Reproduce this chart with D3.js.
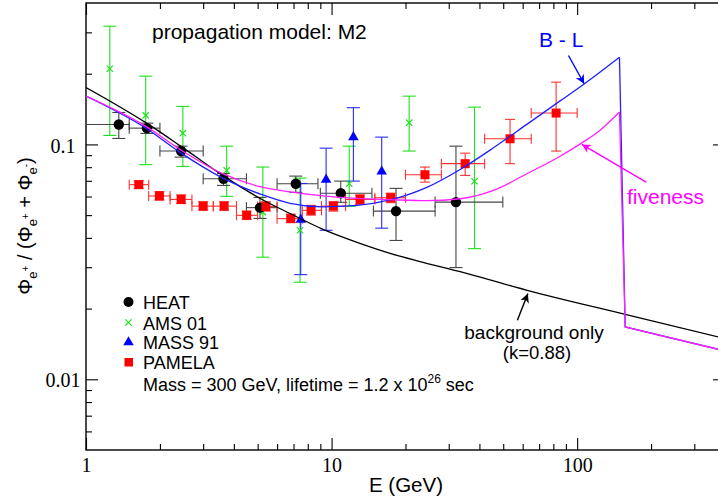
<!DOCTYPE html>
<html>
<head>
<meta charset="utf-8">
<script src="https://cdn.jsdelivr.net/npm/d3@7"></script>
<style>
  body { margin: 0; background: #fff; }
  svg { display: block; }
</style>
</head>
<body>
<svg width="718" height="502"></svg>
<script>
const svg = d3.select('svg');

// HEAT (black circles): energy, ratio, energy bin, ratio error
const heatE   = [1.36, 1.77, 2.44, 3.63, 5.11, 7.15, 10.9, 18.3, 32.1];
const heatV   = [0.1216, 0.1173, 0.0937, 0.0714, 0.0538, 0.068, 0.062, 0.052, 0.0568];
const heatElo = [1.0, 1.5, 2.0, 3.0, 4.5, 6.0, 9.0, 14.8, 26.4];
const heatEhi = [1.5, 2.0, 3.0, 4.5, 6.0, 8.8, 14.6, 26.4, 49.8];
const heatVlo = [0.106, 0.1114, 0.0883, 0.0669, 0.0484, 0.0625, 0.0567, 0.039, 0.0299];
const heatVhi = [0.1368, 0.1232, 0.0983, 0.0752, 0.0595, 0.0733, 0.0698, 0.065, 0.0983];

// AMS 01 (green crosses)
const amsE   = [1.25, 1.75, 2.48, 3.74, 5.25, 7.44, 11.8, 20.7, 38.2];
const amsV   = [0.21, 0.1329, 0.1117, 0.0775, 0.0515, 0.0431, 0.068, 0.1237, 0.0697];
const amsVlo = [0.1092, 0.082, 0.0806, 0.0601, 0.0331, 0.0259, 0.0545, 0.0937, 0.036];
const amsVhi = [0.3187, 0.1953, 0.1451, 0.0983, 0.0801, 0.0719, 0.0983, 0.1605, 0.1441];

// MASS 91 (blue triangles)
const massE   = [7.49, 9.5, 12.27, 16.0];
const massV   = [0.0478, 0.0708, 0.1074, 0.0767];
const massVlo = [0.0279, 0.0431, 0.0698, 0.044];
const massVhi = [0.0682, 0.0964, 0.1433, 0.1074];

// PAMELA (red squares)
const pamE   = [1.64, 1.99, 2.44, 3.0, 3.65, 4.51, 5.4, 6.82, 8.25, 10.17, 13.06, 17.4, 24.0, 35.0, 53.3, 82.1];
const pamV   = [0.0674, 0.0603, 0.0583, 0.0546, 0.0546, 0.0499, 0.0544, 0.0483, 0.0524, 0.0546, 0.0583, 0.0593, 0.0743, 0.0828, 0.1057, 0.136];
const pamElo = [1.5, 1.8, 2.2, 2.7, 3.3, 4.1, 5.0, 6.0, 7.6, 9.1, 11.4, 15.0, 20.0, 28.0, 42.0, 65.0];
const pamEhi = [1.8, 2.2, 2.7, 3.3, 4.1, 5.0, 6.0, 7.6, 9.1, 11.4, 15.0, 20.0, 28.0, 42.0, 65.0, 100.0];
const pamVlo = [0.065, 0.058, 0.056, 0.0525, 0.0525, 0.048, 0.052, 0.0465, 0.05, 0.052, 0.0555, 0.0565, 0.0691, 0.0738, 0.0828, 0.0937];
const pamVhi = [0.070, 0.063, 0.061, 0.057, 0.057, 0.052, 0.057, 0.0505, 0.055, 0.057, 0.061, 0.062, 0.0801, 0.0918, 0.1278, 0.1841];

// model curves
const bgE = [1, 1.772, 2.438, 3.649, 5.212, 6.776, 9.235, 12.70, 17.31, 23.59, 36.66, 62.56, 156.9, 400];
const bgV = [0.1748, 0.1229, 0.0981, 0.0731, 0.0583, 0.0508, 0.04348, 0.03828, 0.03437, 0.03147, 0.02798, 0.02392, 0.01891, 0.0149];
const blE = [1, 1.767, 2.415, 3.625, 5.163, 6.776, 9.235, 12.70, 17.31, 24.42, 33.38, 45.6, 62.39, 85.27, 106.8, 148.7, 156.9, 400];
const blV = [0.1605, 0.1166, 0.0925, 0.0717, 0.0613, 0.0561, 0.0542, 0.0550, 0.0580, 0.0656, 0.0782, 0.0967, 0.1217, 0.1532, 0.1809, 0.2352, 0.0167, 0.0132];
const fvE = [1, 1.767, 2.415, 3.625, 5.163, 6.776, 9.235, 12.70, 17.31, 24.42, 33.38, 45.6, 62.39, 85.27, 104.5, 124.1, 148.7, 156.9, 400];
const fvV = [0.1605, 0.1187, 0.0952, 0.0749, 0.0659, 0.0628, 0.0604, 0.0589, 0.0582, 0.0576, 0.0587, 0.0637, 0.0750, 0.0890, 0.1015, 0.1150, 0.1373, 0.0167, 0.0132];
const cutE = 148.7;

// annotation arrows [E0, v0, E1, v1]
const arrowBL = [92.2, 0.2391, 106.8, 0.1812];
const arrowFive = [191, 0.0691, 104.5, 0.1];
const arrowBg = [57.1, 0.01782, 63.0, 0.02316];

// axis ticks
const xMajor = [1, 10, 100];
const xMinor = [2, 3, 4, 5, 6, 7, 8, 9, 20, 30, 40, 50, 60, 70, 80, 90, 200, 300];
const yMajor = [0.01, 0.1];
const yMinor = [0.006, 0.007, 0.008, 0.009, 0.02, 0.03, 0.04, 0.05, 0.06, 0.07, 0.08, 0.09, 0.2, 0.3];

const sans = 'Liberation Sans, Arial, Helvetica, sans-serif';
const serif = 'Liberation Serif, Times New Roman, serif';

const x = d3.scaleLog().domain([1, 400]).range([86, 725]);
const y = d3.scaleLog().domain([0.005, 0.4]).range([450, 3]);

// clip
const defs = svg.append('defs');
defs.append('clipPath').attr('id', 'plot')
  .append('rect').attr('x', 86).attr('y', 3).attr('width', 639).attr('height', 447);

['#000', '#0000ff', '#ff00ff'].forEach((c, i) => {
  defs.append('marker')
    .attr('id', 'arr' + i)
    .attr('viewBox', '0 0 10 10')
    .attr('refX', 10).attr('refY', 5)
    .attr('markerWidth', 9).attr('markerHeight', 9)
    .attr('markerUnits', 'userSpaceOnUse')
    .attr('orient', 'auto')
    .append('path')
    .attr('d', 'M0,0 L10,5 L0,10 L3,5 Z')
    .attr('fill', c);
});

// axes
function styleAxis(g) {
  g.select('.domain').remove();
  g.selectAll('.tick line').attr('stroke', '#000').attr('stroke-width', 1.1);
  g.attr('font-family', serif).attr('font-size', 20);
  g.selectAll('text').attr('fill', '#000');
}

svg.append('g').attr('transform', 'translate(0,450)')
  .call(d3.axisBottom(x).tickValues(xMajor).tickSize(-12).tickPadding(8).tickFormat(d => d))
  .call(styleAxis);
svg.append('g').attr('transform', 'translate(0,450)')
  .call(d3.axisBottom(x).tickValues(xMinor).tickSize(-6).tickFormat(''))
  .call(styleAxis);
svg.append('g').attr('transform', 'translate(0,3)')
  .call(d3.axisTop(x).tickValues(xMajor).tickSize(-12).tickFormat(''))
  .call(styleAxis);
svg.append('g').attr('transform', 'translate(0,3)')
  .call(d3.axisTop(x).tickValues(xMinor).tickSize(-6).tickFormat(''))
  .call(styleAxis);

svg.append('g').attr('transform', 'translate(86,0)')
  .call(d3.axisLeft(y).tickValues(yMajor).tickSize(-12).tickFormat(d => String(d)))
  .call(styleAxis)
  .call(g => g.selectAll('text').attr('text-anchor', 'middle').attr('x', -23).attr('dy', '0.38em'));
svg.append('g').attr('transform', 'translate(86,0)')
  .call(d3.axisLeft(y).tickValues(yMinor).tickSize(-6).tickFormat(''))
  .call(styleAxis);
svg.append('g').attr('transform', 'translate(725,0)')
  .call(d3.axisRight(y).tickValues(yMajor).tickSize(-12).tickFormat(''))
  .call(styleAxis);
svg.append('g').attr('transform', 'translate(725,0)')
  .call(d3.axisRight(y).tickValues(yMinor).tickSize(-6).tickFormat(''))
  .call(styleAxis);

// frame
svg.append('rect')
  .attr('x', 86).attr('y', 3).attr('width', 639).attr('height', 447)
  .attr('fill', 'none').attr('stroke', '#000').attr('stroke-width', 1.4);

const plot = svg.append('g').attr('clip-path', 'url(#plot)');

// error bars
function errorBars(rows, color, capY, capX) {
  const g = plot.append('g').attr('stroke', color).attr('stroke-width', 1.1).attr('fill', 'none');
  rows.forEach(r => {
    g.append('line').attr('x1', x(r.e)).attr('x2', x(r.e)).attr('y1', y(r.vlo)).attr('y2', y(r.vhi));
    [r.vlo, r.vhi].forEach(v => g.append('line')
      .attr('x1', x(r.e) - capY).attr('x2', x(r.e) + capY).attr('y1', y(v)).attr('y2', y(v)));
    if (r.elo !== undefined) {
      g.append('line').attr('x1', x(r.elo)).attr('x2', x(r.ehi)).attr('y1', y(r.v)).attr('y2', y(r.v));
      [r.elo, r.ehi].forEach(e => g.append('line')
        .attr('x1', x(e)).attr('x2', x(e)).attr('y1', y(r.v) - capX).attr('y2', y(r.v) + capX));
    }
  });
}

const heat = heatE.map((e, i) => ({ e, v: heatV[i], elo: heatElo[i], ehi: heatEhi[i], vlo: heatVlo[i], vhi: heatVhi[i] }));
const ams = amsE.map((e, i) => ({ e, v: amsV[i], vlo: amsVlo[i], vhi: amsVhi[i] }));
const mass = massE.map((e, i) => ({ e, v: massV[i], vlo: massVlo[i], vhi: massVhi[i] }));
const pam = pamE.map((e, i) => ({ e, v: pamV[i], elo: pamElo[i], ehi: pamEhi[i], vlo: pamVlo[i], vhi: pamVhi[i] }));

errorBars(ams, '#1ee01e', 6.5, 0);
errorBars(heat, '#444', 6.5, 5.5);
errorBars(mass, '#2a2aff', 6.5, 0);
errorBars(pam, '#ff3030', 5, 5);

// markers
plot.append('g').selectAll('path').data(ams).join('path')
  .attr('transform', d => `translate(${x(d.e)},${y(d.v)})`)
  .attr('d', d3.symbol(d3.symbolTimes, 28))
  .attr('stroke', '#1ee01e').attr('stroke-width', 1.2).attr('fill', 'none');
plot.append('g').selectAll('circle').data(heat).join('circle')
  .attr('cx', d => x(d.e)).attr('cy', d => y(d.v)).attr('r', 5.2).attr('fill', '#000');
plot.append('g').selectAll('path').data(mass).join('path')
  .attr('transform', d => `translate(${x(d.e)},${y(d.v)})`)
  .attr('d', d3.symbol(d3.symbolTriangle, 48))
  .attr('fill', '#0000ff');
plot.append('g').selectAll('rect').data(pam).join('rect')
  .attr('x', d => x(d.e) - 4.5).attr('y', d => y(d.v) - 4.5)
  .attr('width', 9).attr('height', 9).attr('fill', '#ff0000');

// curves
const smooth = d3.line().x(d => x(d[0])).y(d => y(d[1])).curve(d3.curveMonotoneX);
const straight = d3.line().x(d => x(d[0])).y(d => y(d[1]));

function curve(es, vs, color) {
  const pts = es.map((e, i) => [e, vs[i]]);
  const head = pts.filter(p => p[0] <= cutE);
  const tail = pts.filter(p => p[0] >= cutE);
  plot.append('path').attr('d', smooth(head)).attr('fill', 'none')
    .attr('stroke', color).attr('stroke-width', 1.3);
  if (tail.length > 1) {
    plot.append('path').attr('d', straight(tail)).attr('fill', 'none')
      .attr('stroke', color).attr('stroke-width', 1.3);
  }
}
plot.append('path')
  .attr('d', smooth(bgE.map((e, i) => [e, bgV[i]])))
  .attr('fill', 'none').attr('stroke', '#000').attr('stroke-width', 1.3);
curve(blE, blV, '#2020ff');
curve(fvE, fvV, '#ff20ff');

// arrows
[[arrowBg, '#000', 0], [arrowBL, '#0000ff', 1], [arrowFive, '#ff00ff', 2]].forEach(([a, c, i]) => {
  svg.append('line')
    .attr('x1', x(a[0])).attr('y1', y(a[1])).attr('x2', x(a[2])).attr('y2', y(a[3]))
    .attr('stroke', c).attr('stroke-width', 1.4)
    .attr('marker-end', `url(#arr${i})`);
});

// texts
function label(txt, px, py, size, color, anchor) {
  return svg.append('text').attr('x', px).attr('y', py)
    .attr('font-family', sans).attr('font-size', size)
    .attr('fill', color || '#000').attr('text-anchor', anchor || 'start')
    .text(txt);
}
label('propagation model: M2', 152, 39, 21);
label('B - L', 539, 47, 21, '#0000ff');
label('fiveness', 627, 204, 21, '#ff00ff');
label('background only', 534, 339, 19, '#000', 'middle');
label('(k=0.88)', 537, 359, 18.5, '#000', 'middle');
label('E (GeV)', 406, 492, 20.5, '#000', 'middle');

const massText = svg.append('text').attr('x', 143).attr('y', 391)
  .attr('font-family', sans).attr('font-size', 18).attr('fill', '#000');
massText.append('tspan').text('Mass = 300 GeV, lifetime = 1.2 x 10');
massText.append('tspan').attr('font-size', 12).attr('dy', -8).text('26');
massText.append('tspan').attr('dy', 8).text(' sec');

// legend
const legNames = ['HEAT', 'AMS 01', 'MASS 91', 'PAMELA'];
const legY = [302, 322.5, 342.3, 362];
const leg = svg.append('g');
leg.append('circle').attr('cx', 128.5).attr('cy', legY[0]).attr('r', 5).attr('fill', '#000');
leg.append('path').attr('transform', `translate(128.5,${legY[1]})`)
  .attr('d', d3.symbol(d3.symbolTimes, 28)).attr('stroke', '#1ee01e').attr('stroke-width', 1.2);
leg.append('path').attr('transform', `translate(128.5,${legY[2]})`)
  .attr('d', d3.symbol(d3.symbolTriangle, 48)).attr('fill', '#0000ff');
leg.append('rect').attr('x', 124.5).attr('y', legY[3] - 4).attr('width', 8.5).attr('height', 8.5).attr('fill', '#ff0000');
legNames.forEach((n, i) => label(n, 143, legY[i] + 7, 18));

// y axis title
const yt = svg.append('text')
  .attr('transform', 'translate(32,226) rotate(-90)')
  .attr('text-anchor', 'middle')
  .attr('font-family', sans).attr('font-size', 20).attr('fill', '#000');
const parts = [
  ['\u03A6', 20, 0], ['e', 13, 5], ['+', 10, -3],
  [' / (\u03A6', 20, 0], ['e', 13, 5], ['+', 10, -3],
  [' + \u03A6', 20, 0], ['e', 13, 5], ['-', 10, -3],
  [')', 20, 0]
];
let cur = 0;
parts.forEach(([t, s, off]) => {
  yt.append('tspan').attr('font-size', s).attr('dy', off - cur).text(t);
  cur = off;
});
</script>
</body>
</html>
